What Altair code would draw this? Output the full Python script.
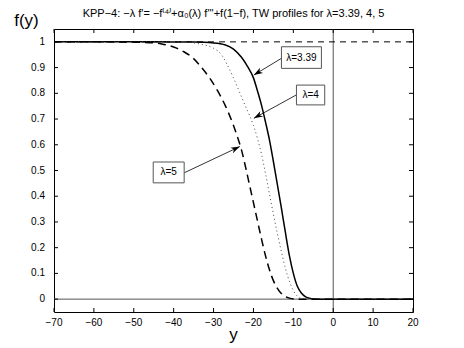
import math
import altair as alt
import pandas as pd

# ---- data ----
x_solid = [-70, -45, -35, -30, -27, -25, -23, -21.5, -20, -19, -18, -17, -16, -15, -14, -13, -12, -11, -10, -9, -8, -7, -6, -5, -3, 20]
y_solid = [1, 1, 0.999, 0.996, 0.988, 0.972, 0.94, 0.905, 0.86, 0.81, 0.755, 0.69, 0.62, 0.535, 0.445, 0.355, 0.26, 0.17, 0.1, 0.05, 0.024, 0.01, 0.004, 0.001, 0, 0]

x_dot = [-70, -45, -38, -35, -33, -30, -28, -26.7, -25, -23.5, -22, -21, -20, -19, -18, -17, -16, -15, -14, -13, -12, -11, -10, -9, -8, -6, 20]
y_dot = [1, 1, 0.999, 0.996, 0.99, 0.975, 0.95, 0.915, 0.86, 0.805, 0.75, 0.715, 0.675, 0.625, 0.565, 0.49, 0.41, 0.33, 0.255, 0.185, 0.12, 0.07, 0.033, 0.012, 0.003, 0, 0]

x_dash = [-70, -55, -50, -46, -43, -40, -37.5, -35, -33, -31, -29, -27, -25, -24, -23, -22, -21, -20, -19, -18, -17, -16, -15, -14, -13, -12, -11, -9, 20]
y_dash = [1, 1, 0.999, 0.997, 0.992, 0.98, 0.962, 0.935, 0.9, 0.86, 0.81, 0.75, 0.675, 0.63, 0.58, 0.515, 0.445, 0.375, 0.305, 0.235, 0.17, 0.115, 0.072, 0.042, 0.022, 0.01, 0.004, 0, 0]

x_ticks = [-70, -60, -50, -40, -30, -20, -10, 0, 10, 20]
x_tick_labels = ["−70", "−60", "−50", "−40", "−30", "−20", "−10", "0", "10", "20"]
y_ticks = [0, 0.1, 0.2, 0.3, 0.4, 0.5, 0.6, 0.7, 0.8, 0.9, 1]
y_tick_labels = ["0", "0.1", "0.2", "0.3", "0.4", "0.5", "0.6", "0.7", "0.8", "0.9", "1"]

labels = ["λ=3.39", "λ=4", "λ=5"]
box_x1 = [-12.98, -9.22, -45.13]
box_x2 = [-2.96, -2.13, -37.37]
box_y1 = [0.897, 0.755, 0.452]
box_y2 = [0.981, 0.832, 0.533]
arr_sx = [-12.98, -9.22, -37.37]
arr_sy = [0.936, 0.794, 0.491]
arr_tx = [-19.9, -19.9, -23.42]
arr_ty = [0.871, 0.703, 0.593]

title_text = "KPP−4: −λ f'= −f⁽⁴⁾+α₀(λ) f'''+f(1−f), TW profiles for λ=3.39, 4, 5"

W, H = 359, 283
XD = [-70, 20]
YD = [-0.05, 1.05]
FONT = "Liberation Sans"

xs = alt.Scale(domain=XD, nice=False, zero=False)
ys = alt.Scale(domain=YD, nice=False, zero=False)

def to_px(x, y):
    return ((x - XD[0]) / (XD[1] - XD[0]) * W, (YD[1] - y) / (YD[1] - YD[0]) * H)

angles = []
for sx, sy, tx, ty in zip(arr_sx, arr_sy, arr_tx, arr_ty):
    p0 = to_px(sx, sy)
    p1 = to_px(tx, ty)
    dx, dy = p1[0] - p0[0], p1[1] - p0[1]
    angles.append(math.degrees(math.atan2(dx, -dy)) % 360)

ann = pd.DataFrame({
    "label": labels, "x1": box_x1, "x2": box_x2, "y1": box_y1, "y2": box_y2,
    "sx": arr_sx, "sy": arr_sy, "tx": arr_tx, "ty": arr_ty, "ang": angles,
})
ann["cx"] = (ann.x1 + ann.x2) / 2
ann["cy"] = (ann.y1 + ann.y2) / 2

solid = pd.DataFrame({"x": x_solid, "y": y_solid})
dot = pd.DataFrame({"x": x_dot, "y": y_dot})
dash = pd.DataFrame({"x": x_dash, "y": y_dash})
xt = pd.DataFrame({"v": x_ticks, "lab": x_tick_labels})
yt = pd.DataFrame({"v": y_ticks, "lab": y_tick_labels})

def QX(f):
    return alt.X(f, type="quantitative", scale=xs, axis=None)

def QY(f):
    return alt.Y(f, type="quantitative", scale=ys, axis=None)

base = alt.Chart(solid).mark_line(color="black", strokeWidth=1.5, interpolate="monotone").encode(x=QX("x"), y=QY("y"))

hline0 = alt.Chart(pd.DataFrame({"y": [0]})).mark_rule(color="#555", strokeWidth=1).encode(
    y=QY("y"), x=alt.value(0), x2=alt.value(W))
hline1 = alt.Chart(pd.DataFrame({"y": [1]})).mark_rule(color="black", strokeWidth=1, strokeDash=[6, 5]).encode(
    y=QY("y"), x=alt.value(0), x2=alt.value(W))
vline0 = alt.Chart(pd.DataFrame({"x": [0]})).mark_rule(color="#555", strokeWidth=1).encode(
    x=QX("x"), y=alt.value(0), y2=alt.value(H))

dot_line = alt.Chart(dot).mark_line(color="#444", strokeWidth=1, strokeDash=[1, 3], interpolate="monotone").encode(
    x=QX("x"), y=QY("y"))
dash_line = alt.Chart(dash).mark_line(color="black", strokeWidth=1.5, strokeDash=[8, 5], interpolate="monotone").encode(
    x=QX("x"), y=QY("y"))

tb = alt.Chart(xt).mark_rule(color="black", strokeWidth=1).encode(x=QX("v"), y=alt.value(H), y2=alt.value(H - 4))
tt = alt.Chart(xt).mark_rule(color="black", strokeWidth=1).encode(x=QX("v"), y=alt.value(0), y2=alt.value(4))
tl = alt.Chart(yt).mark_rule(color="black", strokeWidth=1).encode(y=QY("v"), x=alt.value(0), x2=alt.value(4))
tr = alt.Chart(yt).mark_rule(color="black", strokeWidth=1).encode(y=QY("v"), x=alt.value(W), x2=alt.value(W - 4))

xlabels = alt.Chart(xt).mark_text(font=FONT, fontSize=10, color="black", baseline="middle", align="center").encode(
    x=QX("v"), y=alt.value(H + 11), text="lab:N")
ylabels = alt.Chart(yt).mark_text(font=FONT, fontSize=10, color="black", baseline="middle", align="right").encode(
    y=QY("v"), x=alt.value(-9), text="lab:N")

arrows = alt.Chart(ann).mark_rule(color="black", strokeWidth=0.8).encode(
    x=QX("sx"), y=QY("sy"), x2="tx:Q", y2="ty:Q")
heads = alt.Chart(ann).mark_point(shape="M0,0 L0.6,1.8 L0,1.3 L-0.6,1.8 Z", filled=True, color="black",
                                  opacity=1, size=100).encode(
    x=QX("tx"), y=QY("ty"), angle=alt.Angle("ang:Q", scale=None))
boxes = alt.Chart(ann).mark_rect(fill="white", stroke="#555", strokeWidth=1).encode(
    x=QX("x1"), x2="x2:Q", y=QY("y1"), y2="y2:Q")
btext = alt.Chart(ann).mark_text(font=FONT, fontSize=10, color="black").encode(
    x=QX("cx"), y=QY("cy"), text="label:N")

title = alt.Chart(pd.DataFrame({"t": [title_text]})).mark_text(
    font=FONT, fontSize=11, color="black", baseline="alphabetic").encode(
    x=alt.value(179.5), y=alt.value(-12), text="t:N")
ylab = alt.Chart(pd.DataFrame({"t": ["f(y)"]})).mark_text(
    font=FONT, fontSize=17, color="black", baseline="alphabetic").encode(
    x=alt.value(-27.5), y=alt.value(-3), text="t:N")
xlab = alt.Chart(pd.DataFrame({"t": ["y"]})).mark_text(
    font=FONT, fontSize=17, color="black", baseline="alphabetic").encode(
    x=alt.value(179.5), y=alt.value(311), text="t:N")

chart = alt.layer(
    hline0, vline0, base, hline1, dot_line, dash_line, tb, tt, tl, tr, xlabels, ylabels,
    arrows, heads, boxes, btext, title, ylab, xlab
).properties(
    width=W, height=H,
    padding={"left": 46, "top": 21, "right": 43, "bottom": 36},
    autosize=alt.AutoSizeParams(type="none"),
    background="white",
).configure_view(stroke="black", strokeWidth=1)

chart.save("out.html", embed_options={"renderer": "svg", "actions": False})
